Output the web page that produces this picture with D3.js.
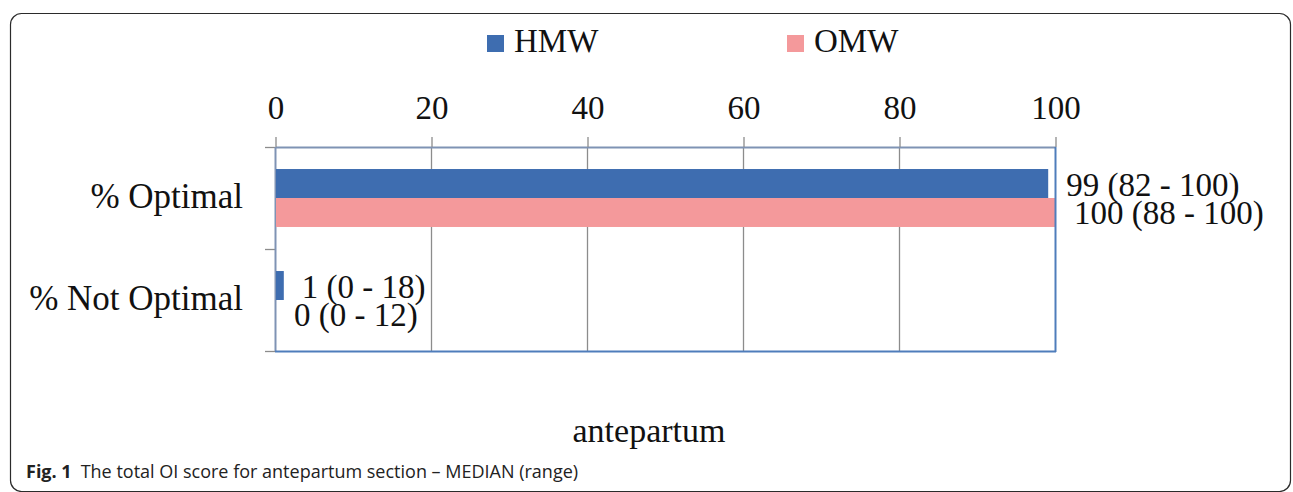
<!DOCTYPE html>
<html><head><meta charset="utf-8">
<script src="https://cdn.jsdelivr.net/npm/d3@7"></script>
<style>
body{margin:0;background:#fff;}
svg{display:block;}
</style></head>
<body>
<svg id="chart" width="1293" height="492"></svg>
<script>
const categories = ["% Optimal", "% Not Optimal"];
const seriesNames = ["HMW", "OMW"];
const hmwValues = [99, 1];
const omwValues = [100, 0];
const hmwLabels = ["99 (82 - 100)", "1 (0 - 18)"];
const omwLabels = ["100 (88 - 100)", "0 (0 - 12)"];
const tickValues = [0, 20, 40, 60, 80, 100];
const colors = {HMW: "#3e6db0", OMW: "#f4999b"};

(function(){
const svg = d3.select("#chart");
const serif = "'Liberation Serif','Times New Roman',serif";
const fs = 33;

// outer frame (rounded corners)
svg.append("rect")
  .attr("x", 10.5).attr("y", 13.5).attr("width", 1280).attr("height", 478)
  .attr("rx", 11).attr("ry", 11)
  .attr("fill", "none").attr("stroke", "#2b2b2b").attr("stroke-width", 1.2);

const pL = 275, pR = 1055, pT = 147, pB = 351;
const x = d3.scaleLinear().domain([0, 100]).range([pL, pR]);
const y = d3.scaleBand().domain(categories).range([pT, pB]).padding(0);
const ys = d3.scaleBand().domain(seriesNames).range([0, y.bandwidth()]).paddingInner(0).paddingOuter(0.76);

// gridlines
svg.append("g").selectAll("line").data(tickValues.filter(d => d > 0 && d < 100)).join("line")
  .attr("x1", d => x(d) + 0.5).attr("x2", d => x(d) + 0.5)
  .attr("y1", pT).attr("y2", pB)
  .attr("stroke", "#8c8c8c").attr("stroke-width", 1.3);

// top axis
const xAxis = svg.append("g").attr("transform", `translate(0.5,${pT})`)
  .call(d3.axisTop(x).tickValues(tickValues).tickSize(10).tickSizeOuter(0).tickPadding(18));
xAxis.select(".domain").attr("stroke", "#7f93b4").attr("stroke-width", 2);
xAxis.selectAll(".tick line").attr("stroke", "#8c8c8c").attr("stroke-width", 1.3);
xAxis.selectAll(".tick text").attr("font-family", serif).attr("font-size", fs).attr("fill", "#111").attr("dy", 0);

// left axis ticks
const yAxisG = svg.append("g");
yAxisG.selectAll("line").data([pT, pT + y.step(), pB]).join("line")
  .attr("x1", pL - 10).attr("x2", pL).attr("y1", d => d + 0.5).attr("y2", d => d + 0.5)
  .attr("stroke", "#8c8c8c").attr("stroke-width", 1.3);
yAxisG.append("line").attr("x1", pL + 0.5).attr("x2", pL + 0.5).attr("y1", pT).attr("y2", pB)
  .attr("stroke", "#7f93b4").attr("stroke-width", 2);

// category labels
svg.append("g").selectAll("text").data(categories).join("text")
  .attr("x", 243).attr("y", d => y(d) + y.bandwidth() / 2 + 10)
  .attr("text-anchor", "end").attr("font-family", serif).attr("font-size", 35).attr("fill", "#111")
  .text(d => d);

// bars
const rows = categories.map((c, i) => ({cat: c, vals: [
  {s: "HMW", v: hmwValues[i], lab: hmwLabels[i]},
  {s: "OMW", v: omwValues[i], lab: omwLabels[i]}]}));
const g = svg.append("g").selectAll("g").data(rows).join("g")
  .attr("transform", d => `translate(0,${y(d.cat)})`);
g.selectAll("rect").data(d => d.vals).join("rect")
  .attr("x", x(0) + 1).attr("y", d => ys(d.s))
  .attr("width", d => Math.max(0, x(d.v) - x(0)))
  .attr("height", ys.bandwidth())
  .attr("fill", d => colors[d.s]);
g.selectAll("text").data(d => d.vals).join("text")
  .attr("x", d => x(d.v) + 19).attr("y", d => ys(d.s) + ys.bandwidth() / 2 + 12)
  .attr("font-family", serif).attr("font-size", fs).attr("fill", "#111")
  .text(d => d.lab);

// plot border right & bottom
svg.append("line").attr("x1", pR + 0.5).attr("x2", pR + 0.5).attr("y1", pT).attr("y2", pB + 1)
  .attr("stroke", "#4f7dbb").attr("stroke-width", 2);
svg.append("line").attr("x1", pL).attr("x2", pR + 1).attr("y1", pB + 0.5).attr("y2", pB + 0.5)
  .attr("stroke", "#4f7dbb").attr("stroke-width", 2);

// legend
const legendPos = [{s: "HMW", x: 487}, {s: "OMW", x: 787}];
const lg = svg.append("g").selectAll("g").data(legendPos).join("g");
lg.append("rect").attr("x", d => d.x).attr("y", 35).attr("width", 17).attr("height", 17)
  .attr("fill", d => colors[d.s]);
lg.append("text").attr("x", d => d.x + 27).attr("y", 52)
  .attr("font-family", serif).attr("font-size", fs).attr("fill", "#111").text(d => d.s);

// axis title
svg.append("text").attr("x", 649).attr("y", 442).attr("text-anchor", "middle")
  .attr("font-family", serif).attr("font-size", 34).attr("fill", "#111").text("antepartum");

// caption
const cap = svg.append("text").attr("x", 26).attr("y", 478)
  .attr("font-family", "'Open Sans','Noto Sans',sans-serif").attr("font-size", 18).attr("fill", "#222");
cap.append("tspan").attr("font-weight", "bold").text("Fig. 1");
cap.append("tspan").attr("dx", 9).text("The total OI score for antepartum section – MEDIAN (range)");
})();
</script>
</body></html>
